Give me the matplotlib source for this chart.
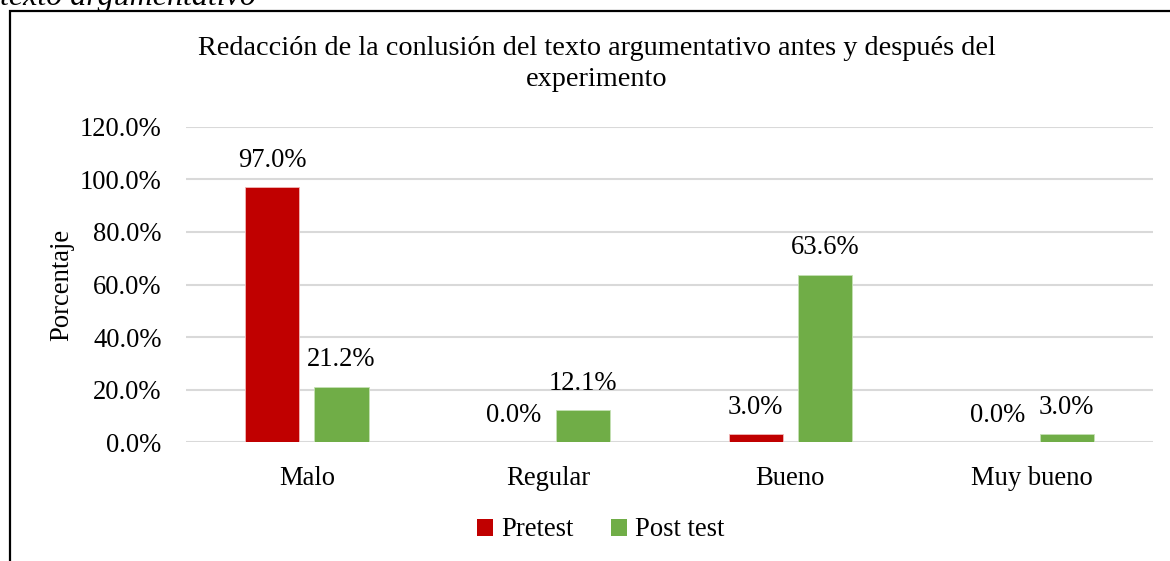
import matplotlib
matplotlib.use("Agg")
import matplotlib.pyplot as plt
from matplotlib.patches import Rectangle, Patch
import numpy as np

categories = ["Malo", "Regular", "Bueno", "Muy bueno"]
pretest = [97.0, 0.0, 3.0, 0.0]
posttest = [21.2, 12.1, 63.6, 3.0]
series_names = ["Pretest", "Post test"]
yticks = [0, 20, 40, 60, 80, 100, 120]
title = "Redacción de la conlusión del texto argumentativo antes y después del\nexperimento"

plt.rcParams['font.family'] = ['Liberation Serif', 'DejaVu Serif']

W, H = 1170, 561
fs = 19.2
fig = plt.figure(figsize=(W / 100, H / 100), dpi=100)

# plot area in pixels
left, right, top, bottom = 186, 1153, 126.7, 442.3
ax = fig.add_axes([left / W, 1 - bottom / H, (right - left) / W, (bottom - top) / H])

x = np.arange(len(categories))
bw = 0.224
off = 0.143
red = "#C00000"
green = "#70AD47"
b1 = ax.bar(x - off, pretest, bw, color=red, edgecolor="#F2B8B8", linewidth=0.6, zorder=3)
b2 = ax.bar(x + off, posttest, bw, color=green, edgecolor="#C5E0B4", linewidth=0.6, zorder=3)

for bars, vals in ((b1, pretest), (b2, posttest)):
    for r, v in zip(bars, vals):
        ax.annotate(f"{v:.1f}%", (r.get_x() + r.get_width() / 2, v),
                    xytext=(0, 19.5), textcoords="offset points",
                    ha="center", va="center", fontsize=fs)

ax.set_xlim(-0.5, len(categories) - 0.5)
ax.set_ylim(0, 120)
ax.set_yticks(yticks)
ax.set_yticklabels([f"{t:.1f}%" for t in yticks], fontsize=fs)
ax.set_xticks(x)
ax.set_xticklabels(categories, fontsize=fs)
ax.tick_params(axis='both', length=0)
ax.tick_params(axis='y', pad=17.5)
ax.tick_params(axis='x', pad=17)
ax.grid(axis='y', color="#D9D9D9", linewidth=1.5, zorder=0)
for s in ax.spines.values():
    s.set_visible(False)
ax.set_ylabel("Porcentaje", fontsize=fs, labelpad=4)

fig.text(597 / W, 1 - 64 / H, title, ha="center", va="center", fontsize=20.3,
         linespacing=1.32)

handles = [Patch(facecolor=red), Patch(facecolor=green)]
fig.legend(handles, series_names, loc="center", bbox_to_anchor=(601 / W, 1 - 530 / H),
           ncol=2, frameon=False, fontsize=fs, handlelength=0.6, handleheight=0.6,
           handletextpad=0.3, columnspacing=1.4)

# frame
fig.patches.append(Rectangle((9.5 / W, -0.1), 1.2, 1 - 10.5 / H + 0.1,
                             transform=fig.transFigure, fill=False,
                             edgecolor="black", linewidth=1.6))

fig.text(0, 1 - 5 / H, "texto argumentativo", ha="left", va="baseline",
         fontsize=23, style="italic")

fig.savefig("out.png", dpi=100)
